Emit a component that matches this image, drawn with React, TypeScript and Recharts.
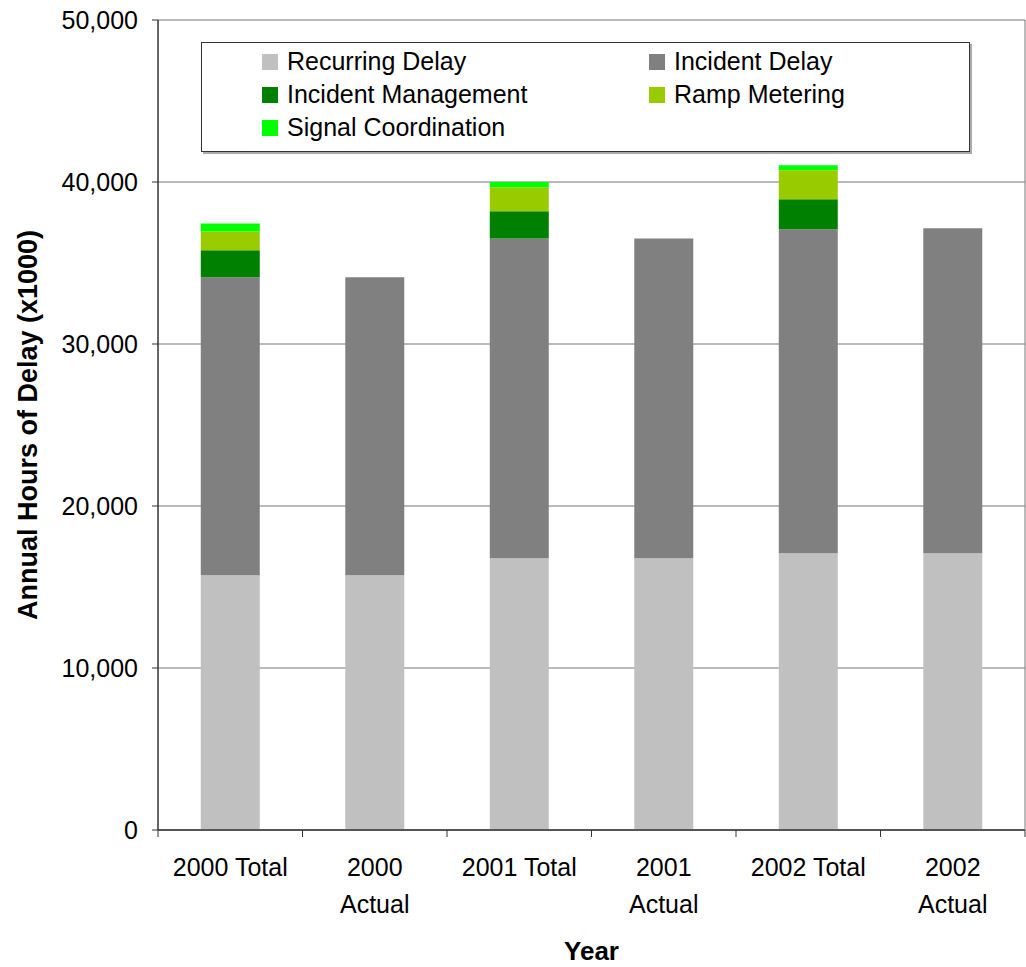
import React from "react";
import { Bar, BarChart, CartesianGrid, Legend, XAxis, YAxis } from "recharts";

const categories = ["2000 Total", "2000 Actual", "2001 Total", "2001 Actual", "2002 Total", "2002 Actual"];
const recurringDelay = [15730, 15730, 16780, 16780, 17090, 17090];
const incidentDelay = [18390, 18390, 19740, 19740, 19990, 20050];
const incidentManagement = [1660, 0, 1670, 0, 1850, 0];
const rampMetering = [1170, 0, 1480, 0, 1790, 0];
const signalCoordination = [490, 0, 330, 0, 310, 0];
const yTicks = [0, 10000, 20000, 30000, 40000, 50000];

const font = "'Liberation Sans', Arial, sans-serif";

const series = [
  { key: "recurring", name: "Recurring Delay", color: "#C0C0C0" },
  { key: "incident", name: "Incident Delay", color: "#808080" },
  { key: "im", name: "Incident Management", color: "#008000" },
  { key: "ramp", name: "Ramp Metering", color: "#99CC00" },
  { key: "signal", name: "Signal Coordination", color: "#00FF00" },
];

const data = categories.map((name, i) => ({
  name,
  recurring: recurringDelay[i],
  incident: incidentDelay[i],
  im: incidentManagement[i],
  ramp: rampMetering[i],
  signal: signalCoordination[i],
}));

const XTick = (props: any) => {
  const { x, y, payload, index, visibleTicksCount } = props;
  const half = payload.offset || 72;
  const axisY = y - 9;
  const name: string = payload.value;
  const lines = name.endsWith("Actual") ? name.split(" ") : [name];
  return (
    <g>
      <line x1={x - half} x2={x - half} y1={axisY} y2={axisY + 7} stroke="#333" />
      {index === visibleTicksCount - 1 && (
        <line x1={x + half} x2={x + half} y1={axisY} y2={axisY + 7} stroke="#333" />
      )}
      <text x={x} y={axisY + 46} textAnchor="middle" fontSize={25} fill="#000" fontFamily={font}>
        {lines.map((l, i) => (
          <tspan key={i} x={x} dy={i === 0 ? 0 : 37}>
            {l}
          </tspan>
        ))}
      </text>
    </g>
  );
};

const LegendBox = () => (
  <div
    style={{
      border: "1.5px solid #333",
      boxShadow: "2px 2px 0 #aaa",
      background: "#fff",
      height: 110,
      boxSizing: "border-box",
      display: "grid",
      gridTemplateColumns: "387px 1fr",
      gridAutoRows: 33,
      paddingLeft: 60,
      paddingTop: 2,
      fontFamily: font,
      fontSize: 25,
      color: "#000",
    }}
  >
    {series.map((s) => (
      <div key={s.key} style={{ display: "flex", alignItems: "center" }}>
        <span style={{ width: 16, height: 16, background: s.color, marginRight: 9, display: "inline-block" }} />
        {s.name}
      </div>
    ))}
  </div>
);

export default function App() {
  return (
    <div style={{ position: "absolute", left: 0, top: 0, background: "#fff" }}>
      <BarChart
        width={1026}
        height={967}
        data={data}
        margin={{ top: 20, right: 0, left: 17, bottom: 0 }}
        barCategoryGap="29.6%"
        style={{ fontFamily: font }}
      >
        <CartesianGrid vertical={false} stroke="#777" />
        <XAxis
          dataKey="name"
          height={137}
          interval={0}
          tickLine={false}
          tickSize={7}
          tickMargin={2}
          axisLine={{ stroke: "#333", strokeWidth: 1.5 }}
          tick={<XTick />}
          label={{ value: "Year", position: "insideBottom", offset: 7, fontSize: 26, fontWeight: 700, fill: "#000" }}
        />
        <YAxis
          width={141}
          domain={[0, 50000]}
          ticks={yTicks}
          tickSize={6}
          tickMargin={14}
          axisLine={{ stroke: "#333", strokeWidth: 1.5 }}
          tickLine={{ stroke: "#333" }}
          tick={{ fontSize: 25, fill: "#000", fontFamily: font }}
          tickFormatter={(v: number) => v.toLocaleString("en-US")}
          label={{
            value: "Annual Hours of Delay (x1000)",
            angle: -90,
            position: "insideLeft",
            offset: 10,
            fontSize: 27,
            fontWeight: 700,
            fill: "#000",
            style: { textAnchor: "middle" },
          }}
        />
        <YAxis
          yAxisId="right"
          orientation="right"
          width={1}
          domain={[0, 50000]}
          tick={false}
          tickLine={false}
          axisLine={{ stroke: "#777" }}
        />
        <Legend
          layout="vertical"
          align="center"
          verticalAlign="middle"
          wrapperStyle={{ top: 42, left: 201, width: 769, height: 110 }}
          content={() => <LegendBox />}
        />
        {series.map((s) => (
          <Bar key={s.key} dataKey={s.key} name={s.name} stackId="a" fill={s.color} isAnimationActive={false} />
        ))}
      </BarChart>
    </div>
  );
}
